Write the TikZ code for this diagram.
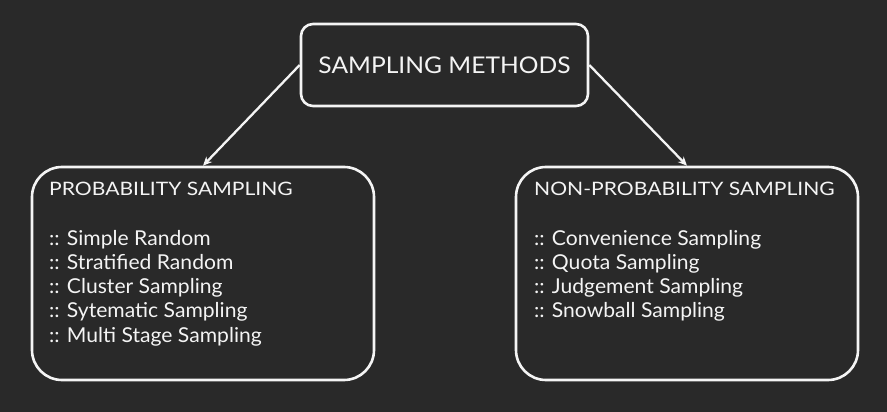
\documentclass[tikz,border=0pt]{standalone}
\usepackage{fontspec}
\setmainfont{Lato}
\newfontfamily\headfont[FakeStretch=1.07]{Lato}
\newfontfamily\titlefont[FakeStretch=1.14]{Lato}
\newfontfamily\listfont[FakeStretch=1.03]{Lato}
\usetikzlibrary{arrows.meta}
\definecolor{board}{HTML}{292929}
\definecolor{chalk}{HTML}{F4F4F4}
\begin{document}
\begin{tikzpicture}[x=1pt,y=-1pt,
  boxstyle/.style={draw=chalk,line width=2.6pt,rounded corners=#1,inner sep=0pt},
  linkstyle/.style={draw=chalk,line width=2.3pt,-{Stealth[length=9pt,width=8pt]}},
  headtext/.style={text=chalk,font=\headfont\fontsize{23}{27}\selectfont,inner sep=0pt},
  titletext/.style={text=chalk,font=\titlefont\fontsize{18.5}{22}\selectfont,inner sep=0pt,anchor=base west},
  listtext/.style={text=chalk,font=\listfont\fontsize{20.5}{24}\selectfont,inner sep=0pt,anchor=base west}]
\fill[board] (0,0) rectangle (887,412);
\useasboundingbox (0,0) rectangle (887,412);
% boxes
\node[boxstyle=12pt,minimum width=287pt,minimum height=82pt] (top) at (444.5,65) {};
\node[boxstyle=30pt,minimum width=342pt,minimum height=213pt] (left) at (203,273.5) {};
\node[boxstyle=30pt,minimum width=342pt,minimum height=213pt] (right) at (687,273.5) {};
% texts
\node[headtext] (toptext) at (top.center) {SAMPLING METHODS};
\node[titletext] (lefttitle) at (49,195) {PROBABILITY SAMPLING};
\node[listtext] (l1) at (49,245) {:: Simple Random};
\node[listtext] (l2) at (49,269.3) {:: Stratified Random};
\node[listtext] (l3) at (49,293.6) {:: Cluster Sampling};
\node[listtext] (l4) at (49,317.9) {:: Sytematic Sampling};
\node[listtext] (l5) at (49,342.2) {:: Multi Stage Sampling};
\node[titletext] (righttitle) at (534,195) {NON-PROBABILITY SAMPLING};
\node[listtext] (r1) at (534,245) {:: Convenience Sampling};
\node[listtext] (r2) at (534,269.3) {:: Quota Sampling};
\node[listtext] (r3) at (534,293.6) {:: Judgement Sampling};
\node[listtext] (r4) at (534,317.9) {:: Snowball Sampling};
% connectors
\draw[linkstyle] (top.west) -- (left.north);
\draw[linkstyle] (top.east) -- (right.north);
\end{tikzpicture}
\end{document}
